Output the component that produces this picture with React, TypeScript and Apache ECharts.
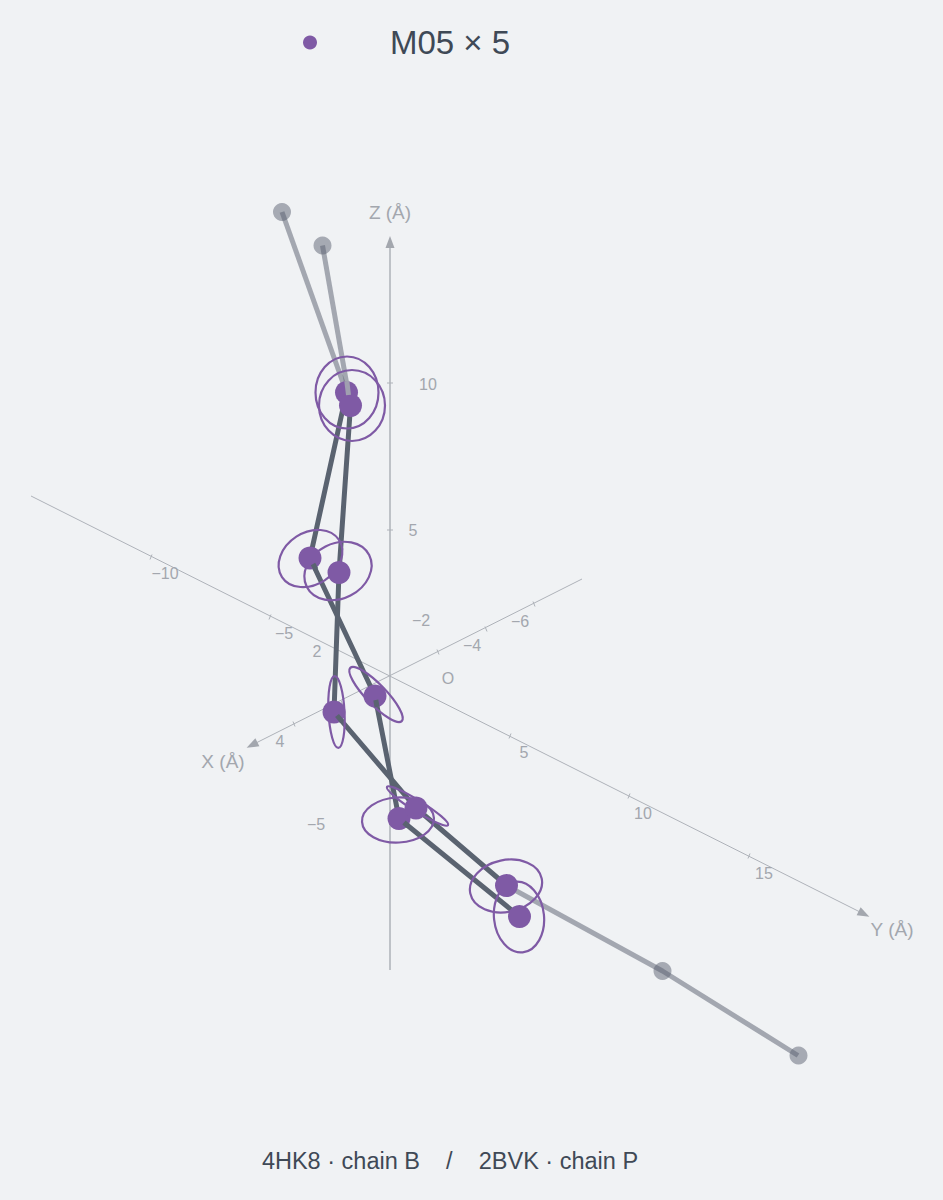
import React, { useEffect, useRef } from "react";
import * as echarts from "echarts";

const PAGE_W = 943;
const PAGE_H = 1200;
const FONT = '"Liberation Sans", Arial, Helvetica, sans-serif';
const BG = "#f0f2f4";
const PURPLE = "#7f5aa5";
const SLATE = "#5a6370";
const GREY = "#5c6272";
const AXIS = "#aeb2b9";
const LABEL = "#a3a7ae";

// Projected positions on the chart plane
const zAxisLine = [[390, 970], [390, 240]];
const xAxisLine = [[582, 579], [250, 746]];
const yAxisLine = [[31, 496], [864, 914]];

const zTicks = [[390, 383], [390, 530]];
const xTicks = [[438, 652], [486, 629], [534, 604], [342, 703], [294, 724]];
const yTicks = [[510, 736], [629, 796], [749, 856], [270, 617], [151, 557]];

const arrowHeads = [
  { value: [390, 242], rot: 0 },
  { value: [252, 745], rot: 116.6 },
  { value: [864, 914], rot: -116.6 },
];

const tickLabels = ["10", "5", "\u22125", "\u221210", "\u22125", "2", "4", "\u22122", "\u22124", "\u22126", "5", "10", "15", "O"];
const tickLabelPos = [[428, 384], [413, 530], [316, 824], [165, 573], [284, 633], [317, 651], [280, 741], [421, 620], [472, 645], [520, 621], [524, 752], [643, 813], [764, 873], [448, 678]];
const axisNames = ["Z (\u00c5)", "X (\u00c5)", "Y (\u00c5)"];
const axisNamePos = [[390, 212], [223, 761], [892, 929]];

const chainAGrey = [[282, 212], [346.5, 392.5]];
const chainBGrey = [[322.5, 245.5], [350.5, 405.5]];
const tailGrey = [[506.5, 885.5], [662.5, 971], [798, 1055.5]];
const chainADark = [[346.5, 392.5], [310, 558], [375, 696], [399, 818.5], [519.5, 916.5]];
const chainBDark = [[350.5, 405.5], [339, 572.5], [334, 712], [416, 808], [506.5, 885.5]];

const greyEnds = [[282, 212], [322.5, 245.5], [662.5, 971], [798.5, 1055.5]];
const m05Points = [[346.5, 392.5], [350.5, 405.5], [310, 558], [339, 572.5], [375, 696], [334, 712], [399, 818.5], [416, 808], [506.5, 885.5], [519.5, 916.5]];

// Short pieces of bond that lie in front of a marker
const darkStubs = [
  [[375.8, 700], [377, 707]],
  [[337, 715.5], [342, 721.5]],
  [[313, 564], [316, 569.5]],
  [[404, 822.5], [408, 826]],
];
const greyStubs = [[[346.8, 381], [348.5, 395]]];

// cx, cy, rx, ry, rotation in degrees (clockwise on screen)
const ellipses = [
  [347, 392.5, 31.5, 36, 0],
  [352, 405.5, 33, 35.5, 0],
  [310.5, 558.5, 34, 26, -33],
  [338, 571, 35, 27.5, -27],
  [336.5, 712, 8, 36, -3],
  [376, 694.5, 37, 10, 46],
  [398, 820, 36, 22.5, -3],
  [417.5, 806, 36, 5.5, 32],
  [506, 886, 36.5, 26, -12],
  [519, 917, 25, 35.5, -6],
];

const legendName = "M05 \u00d7 5";
const bottomTitle = "4HK8 \u00b7 chain B\u00a0\u00a0\u00a0\u00a0/\u00a0\u00a0\u00a0\u00a02BVK \u00b7 chain P";

const lineSeries = (data: number[][], color: string, width: number, z: number, opacity = 1) => ({
  type: "line",
  data,
  symbol: "none",
  silent: true,
  z,
  lineStyle: { color, width, opacity, cap: "butt", join: "round" },
});

const tickSeries = (data: number[][], dx: number, dy: number) => ({
  type: "custom",
  data,
  silent: true,
  z: 1,
  encode: { x: 0, y: 1 },
  renderItem: (_: any, api: any) => {
    const p = api.coord([api.value(0), api.value(1)]);
    return {
      type: "line",
      shape: { x1: p[0] - dx, y1: p[1] - dy, x2: p[0] + dx, y2: p[1] + dy },
      style: { stroke: AXIS, lineWidth: 1 },
    };
  },
});

const textSeries = (texts: string[], pos: number[][], size: number) => ({
  type: "custom",
  data: pos,
  silent: true,
  z: 2,
  encode: { x: 0, y: 1 },
  renderItem: (params: any, api: any) => {
    const p = api.coord([api.value(0), api.value(1)]);
    return {
      type: "text",
      x: p[0],
      y: p[1],
      style: {
        text: texts[params.dataIndex],
        fill: LABEL,
        font: `${size}px ${FONT}`,
        align: "center",
        verticalAlign: "middle",
      },
    };
  },
});

export default function App() {
  const ref = useRef<HTMLDivElement>(null);

  useEffect(() => {
    document.body.style.margin = "0";
    document.body.style.background = BG;
    const chart = echarts.init(ref.current!, undefined, { renderer: "svg" });
    chart.setOption({
      animation: false,
      backgroundColor: BG,
      grid: { left: 0, right: 0, top: 0, bottom: 0 },
      xAxis: { type: "value", min: 0, max: PAGE_W, show: false },
      yAxis: { type: "value", min: 0, max: PAGE_H, inverse: true, show: false },
      title: {
        text: bottomTitle,
        left: 445,
        top: 1144,
        textAlign: "center",
        textStyle: { fontFamily: FONT, fontSize: 23.5, fontWeight: "normal", color: "#3f4956" },
      },
      legend: {
        data: [legendName],
        left: 298,
        top: 21,
        icon: "circle",
        itemWidth: 150,
        itemHeight: 14,
        selectedMode: false,
        textStyle: { fontFamily: FONT, fontSize: 33, color: "#3f4956" },
      },
      series: [
        lineSeries(zAxisLine, AXIS, 1.5, 1),
        lineSeries(xAxisLine, AXIS, 1, 1),
        lineSeries(yAxisLine, AXIS, 1, 1),
        tickSeries(zTicks, 3, 0),
        tickSeries(xTicks, 1, 2.5),
        tickSeries(yTicks, 1, -2.5),
        {
          type: "scatter",
          silent: true,
          z: 1,
          symbol: "triangle",
          symbolSize: [9, 12],
          itemStyle: { color: "#a3a7ae", opacity: 1 },
          data: arrowHeads.map((a) => ({ value: a.value, symbolRotate: a.rot })),
        },
        textSeries(tickLabels, tickLabelPos, 16),
        textSeries(axisNames, axisNamePos, 19),
        lineSeries(chainAGrey, GREY, 5, 3, 0.52),
        lineSeries(chainBGrey, GREY, 5, 3, 0.52),
        lineSeries(tailGrey, GREY, 5, 3, 0.52),
        {
          type: "scatter",
          silent: true,
          z: 3,
          symbol: "circle",
          symbolSize: 18,
          itemStyle: { color: GREY, opacity: 0.5 },
          data: greyEnds,
        },
        lineSeries(chainADark, SLATE, 5, 4),
        lineSeries(chainBDark, SLATE, 5, 4),
        {
          type: "custom",
          silent: true,
          z: 5,
          data: ellipses,
          encode: { x: 0, y: 1 },
          renderItem: (_: any, api: any) => {
            const p = api.coord([api.value(0), api.value(1)]);
            const s = api.size([api.value(2), api.value(3)]);
            return {
              type: "ellipse",
              x: p[0],
              y: p[1],
              rotation: (-api.value(4) * Math.PI) / 180,
              shape: { cx: 0, cy: 0, rx: s[0], ry: s[1] },
              style: { fill: "none", stroke: PURPLE, lineWidth: 2.2 },
            };
          },
        },
        {
          name: legendName,
          type: "scatter",
          silent: true,
          z: 6,
          symbol: "circle",
          symbolSize: 23,
          itemStyle: { color: PURPLE, opacity: 1 },
          data: m05Points,
        },
        ...darkStubs.map((s) => lineSeries(s, SLATE, 5, 7)),
        ...greyStubs.map((s) => lineSeries(s, "#a09fb0", 5, 7)),
      ],
    });
    return () => chart.dispose();
  }, []);

  return <div ref={ref} style={{ position: "absolute", left: 0, top: 0, width: PAGE_W, height: PAGE_H }} />;
}
